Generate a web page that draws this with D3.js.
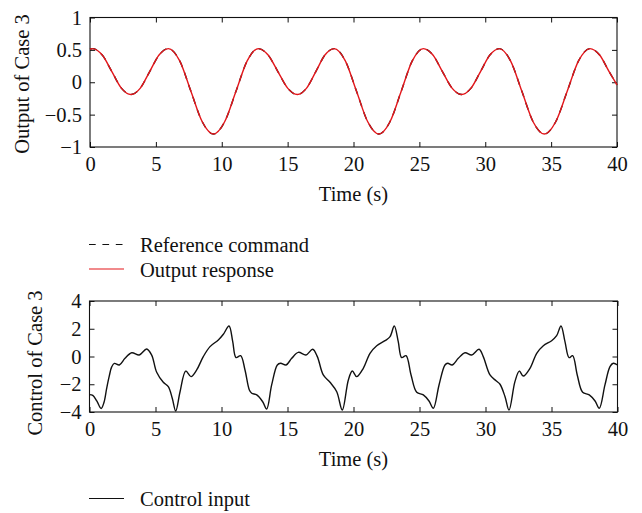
<!DOCTYPE html>
<html>
<head>
    <title>Case 3 output and control</title>
    <script src="https://d3js.org/d3.v7.min.js"></script>
    <style>
        body { margin: 0; background: #fff; }
        svg { display: block; font-family: "Liberation Serif", "Times New Roman", serif; }
        svg text { font-family: "Liberation Serif", "Times New Roman", serif; }
        .tick text { font-size: 20.5px; fill: #111; }
        .tick line { stroke: #111; }
    </style>
</head>
<body>
    <div id="chart"></div>

    <script>
        // tick values
        var timeTicks = [0, 5, 10, 15, 20, 25, 30, 35, 40];
        var outputTicks = [-1, -0.5, 0, 0.5, 1];
        var controlTicks = [-4, -2, 0, 2, 4];

        // output of case 3: time, value
        var outputTime = [0, 0.2, 0.93, 1.66, 2.38, 3.11, 3.82, 4.53, 5.24, 5.95, 6.81, 7.66, 8.52, 9.37,
            10.22, 11.08, 11.93, 12.78, 13.52, 14.26, 15.0, 15.74, 16.44, 17.14, 17.83, 18.53,
            19.38, 20.23, 21.08, 21.93, 22.77, 23.62, 24.46, 25.3, 26.03, 26.75, 27.48, 28.2,
            28.92, 29.64, 30.35, 31.07, 31.92, 32.78, 33.63, 34.48, 35.35, 36.22, 37.08, 37.95,
            38.68, 39.4, 40];
        var outputValue = [0.51, 0.52, 0.42, 0.165, -0.09, -0.19, -0.09, 0.165, 0.42, 0.52, 0.33, -0.14, -0.61, -0.8,
            -0.61, -0.14, 0.33, 0.52, 0.42, 0.165, -0.09, -0.19, -0.09, 0.165, 0.42, 0.52,
            0.33, -0.14, -0.61, -0.8, -0.61, -0.14, 0.33, 0.52, 0.42, 0.165, -0.09, -0.19,
            -0.09, 0.165, 0.42, 0.52, 0.33, -0.14, -0.61, -0.8, -0.61, -0.14, 0.33, 0.52,
            0.42, 0.165, -0.04];
        // reference command lies under the output response
        var referenceValue = outputValue.slice();

        // control input of case 3
        var controlTime = [0, 0.25, 0.55, 0.88, 1.1, 1.3, 1.5, 1.68, 1.88, 2.26, 2.69, 3.2, 3.77, 4.33, 4.71,
            5.09, 5.59, 5.97, 6.27, 6.53, 6.86, 7.29, 7.69, 8.12, 8.62, 9.13, 9.76, 10.14, 10.57,
            10.85, 11.1, 11.45, 11.78, 12.11, 12.29, 12.67, 13.12, 13.42, 13.8, 14.23, 14.48,
            14.89, 15.32, 15.82, 16.4, 16.91, 17.26, 17.71, 18.22, 18.73, 19.15, 19.61, 19.91,
            20.24, 20.74, 21.25, 21.76, 22.39, 22.77, 23.09, 23.39, 23.65, 23.98, 24.36, 24.79,
            25.29, 25.72, 26.05, 26.48, 26.93, 27.14, 27.48, 27.94, 28.45, 28.95, 29.51, 29.83,
            30.34, 30.8, 31.1, 31.48, 31.78, 32.23, 32.56, 32.86, 33.37, 33.88, 34.38, 35.01,
            35.39, 35.72, 36.02, 36.33, 36.6, 36.95, 37.36, 37.86, 38.3, 38.62, 39.05, 39.43,
            39.68, 40];
        var controlValue = [-2.75, -2.8, -3.2, -3.75, -3.3, -2.3, -1.4, -0.75, -0.5, -0.61, -0.13, 0.27, 0.11, 0.54, 0.1,
            -1.14, -1.86, -2.17, -3.01, -3.93, -2.54, -1.05, -1.45, -0.97, -0.01, 0.71, 1.19, 1.6, 2.2,
            1.07, -0.08, 0.06, -0.97, -2.41, -2.65, -2.77, -3.26, -3.78, -2.05, -0.61, -0.49,
            -0.61, -0.13, 0.3, 0.11, 0.52, -0.01, -1.33, -1.86, -2.54, -3.86, -1.69, -1.05,
            -1.45, -0.85, 0.23, 0.78, 1.14, 1.43, 2.2, 1.07, -0.08, 0.06, -1.33, -2.58,
            -2.77, -3.21, -3.73, -2.05, -0.61, -0.49, -0.61, -0.13, 0.27, 0.11, 0.52, -0.01,
            -1.33, -1.75, -2.0, -2.9, -3.86, -1.81, -1.05, -1.41, -0.85, 0.23, 0.78, 1.14,
            1.5, 2.2, 1.07, -0.08, 0.06, -1.33, -2.58, -2.77, -3.21, -3.73, -2.05, -0.73,
            -0.49, -0.61];

        var svg = d3.select("#chart").append("svg").attr("width", 642).attr("height", 513);

        function fmt(d) {
            return d < 0 ? "\u2212" + Math.abs(d) : String(d);
        }

        function drawPanel(p) {
            var x = d3.scaleLinear().domain([0, 40]).range([p.left, p.right]);
            var y = d3.scaleLinear().domain(p.yDomain).range([p.bottom, p.top]);

            var g = svg.append("g");

            // bottom axis with labels, top axis ticks only
            g.append("g").attr("transform", "translate(0," + p.bottom + ")")
                .call(d3.axisBottom(x).tickValues(timeTicks).tickSizeInner(-5).tickSizeOuter(0)
                    .tickPadding(9).tickFormat(fmt));
            g.append("g").attr("transform", "translate(0," + p.top + ")")
                .call(d3.axisTop(x).tickValues(timeTicks).tickSizeInner(-5).tickSizeOuter(0).tickFormat(""));
            g.append("g").attr("transform", "translate(" + p.left + ",0)")
                .call(d3.axisLeft(y).tickValues(p.yTicks).tickSizeInner(-5).tickSizeOuter(0)
                    .tickPadding(8).tickFormat(fmt));
            g.append("g").attr("transform", "translate(" + p.right + ",0)")
                .call(d3.axisRight(y).tickValues(p.yTicks).tickSizeInner(-5).tickSizeOuter(0).tickFormat(""));
            g.selectAll(".domain").remove();
            g.selectAll("g").attr("font-family", null).attr("font-size", null);

            g.append("rect")
                .attr("x", p.left).attr("y", p.top)
                .attr("width", p.right - p.left).attr("height", p.bottom - p.top)
                .attr("fill", "none").attr("stroke", "#111").attr("stroke-width", 1.1);

            p.series.forEach(function(s) {
                var pts = s.time.map(function(t, i) { return [t, s.value[i]]; });
                var line = d3.line()
                    .x(function(d) { return x(d[0]); })
                    .y(function(d) { return y(d[1]); })
                    .curve(s.curve);
                g.append("path")
                    .datum(pts)
                    .attr("d", line)
                    .attr("fill", "none")
                    .attr("stroke", s.color)
                    .attr("stroke-width", 1.4)
                    .attr("stroke-dasharray", s.dash || null);
            });

            g.append("text")
                .attr("x", (p.left + p.right) / 2)
                .attr("y", p.xLabelY)
                .attr("text-anchor", "middle")
                .attr("font-size", 20.5)
                .attr("fill", "#111")
                .text("Time (s)");

            g.append("text")
                .attr("transform", "translate(" + p.yLabelX + "," + p.yLabelY + ") rotate(-90)")
                .attr("text-anchor", "middle")
                .attr("font-size", 20.5)
                .attr("fill", "#111")
                .text(p.yLabel);

            // legend
            p.legend.forEach(function(l, i) {
                var ly = p.legendY + i * 24.5;
                g.append("line")
                    .attr("x1", 89).attr("x2", 124)
                    .attr("y1", ly - 7.5).attr("y2", ly - 7.5)
                    .attr("stroke", l.color)
                    .attr("stroke-width", 1.2)
                    .attr("stroke-dasharray", l.dash || null);
                g.append("text")
                    .attr("x", 140).attr("y", ly)
                    .attr("font-size", 20.5)
                    .attr("fill", "#111")
                    .text(l.label);
            });
        }

        drawPanel({
            left: 90, right: 617, top: 17.5, bottom: 147,
            yDomain: [-1, 1], yTicks: outputTicks,
            yLabel: "Output of Case 3", yLabelX: 29, yLabelY: 84,
            xLabelY: 201,
            series: [
                { time: outputTime, value: referenceValue, color: "#111", dash: "7,6", curve: d3.curveMonotoneX },
                { time: outputTime, value: outputValue, color: "#e3161b", curve: d3.curveMonotoneX }
            ],
            legendY: 252,
            legend: [
                { label: "Reference command", color: "#111", dash: "6.7,6.7" },
                { label: "Output response", color: "#e3161b" }
            ]
        });

        drawPanel({
            left: 89.5, right: 617.5, top: 301, bottom: 412,
            yDomain: [-4, 4], yTicks: controlTicks,
            yLabel: "Control of Case 3", yLabelX: 42, yLabelY: 363,
            xLabelY: 466,
            series: [
                { time: controlTime, value: controlValue, color: "#111", curve: d3.curveCatmullRom.alpha(0.5) }
            ],
            legendY: 506,
            legend: [
                { label: "Control input", color: "#111" }
            ]
        });
    </script>
</body>
</html>
